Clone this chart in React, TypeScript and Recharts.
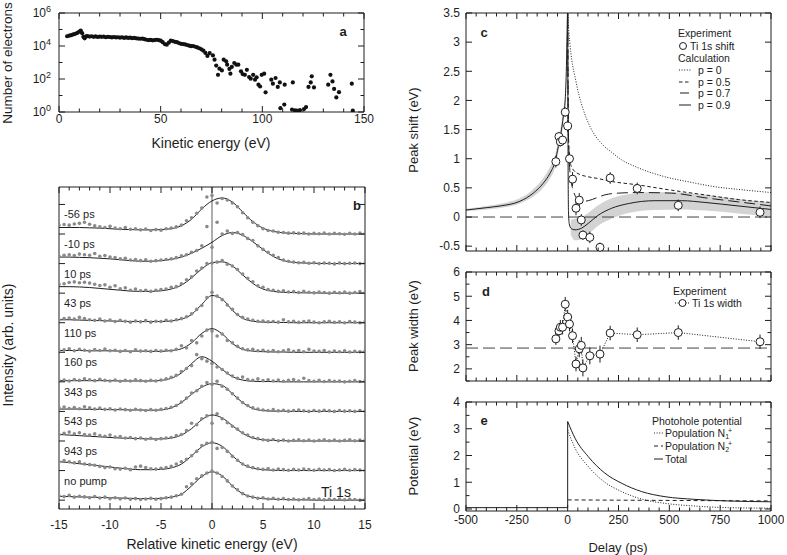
import React from "react";
import {
  ComposedChart,
  Line,
  Scatter,
  Area,
  XAxis,
  YAxis,
  ReferenceLine,
  ErrorBar,
} from "recharts";

const FONT = "'Liberation Sans', Arial, Helvetica, sans-serif";
const INK = "#1e1e1e";
const DOT_GRAY = "#8a8a8a";
const BAND = "#d3d3d3";

// ---------- panel a: electron spectrum ----------
const aEnergy = [
  4, 5, 6, 7, 8, 9, 10, 10.7, 11.4, 12, 12.6, 13.3, 14, 15, 16, 17, 18, 19, 20,
  21, 22, 23, 24, 25, 26, 27, 28, 29, 30, 31, 32, 33, 34, 35, 36, 37, 38, 39,
  40, 41, 42, 43, 44, 45, 46, 47, 48, 49, 50, 51, 52, 53, 54, 55, 56, 57, 58,
  59, 60, 61, 62, 63, 64, 65, 66, 67, 68, 69, 70, 71, 72, 73,
  74.1, 75.7, 76.5, 77.3, 78.2, 78.9, 80.1, 81, 82.2, 82.7, 83.8, 84.3, 85,
  86.2, 87.2, 88.2, 89.5, 90.3, 91.4, 92.4, 93.5, 94.3, 95.5, 96.4, 97.2, 98.1,
  98.9, 99.7, 100.9, 101.6, 104.4, 105.2, 106.5, 107.6, 108.6, 108.9, 110.8,
  111, 114.6, 115, 116, 117, 118.5, 120.5, 121.5, 122.7, 123.8, 124.3, 125.4,
  132.4, 133.5, 134.5, 135.3, 136.4, 137.7, 144, 144.5,
];
const aCounts = [
  3.9e4, 4.2e4, 4.5e4, 5.0e4, 5.5e4, 6.2e4, 7.4e4, 8.6e4, 6.0e4, 3.6e4, 2.9e4,
  3.8e4, 4.0e4, 3.7e4, 3.9e4, 3.6e4, 3.8e4, 3.5e4, 3.7e4, 3.6e4, 3.7e4, 3.4e4,
  3.6e4, 3.5e4, 3.3e4, 3.5e4, 3.3e4, 3.4e4, 3.2e4, 3.4e4, 3.1e4, 3.3e4, 3.1e4,
  3.2e4, 3.0e4, 3.1e4, 2.9e4, 2.8e4, 2.75e4, 2.8e4, 2.6e4, 2.4e4, 2.3e4,
  2.35e4, 2.2e4, 2.3e4, 2.4e4, 2.3e4, 2.1e4, 1.7e4, 1.3e4, 1.2e4, 1.6e4,
  2.1e4, 2.0e4, 1.8e4, 1.7e4, 1.5e4, 1.35e4, 1.3e4, 1.25e4, 1.15e4, 1.05e4,
  9.8e3, 1.0e4, 9.0e3, 8.2e3, 7.3e3, 6.3e3, 5.2e3, 3.8e3, 2.5e3,
  3700, 2700, 1480, 650, 180, 420, 330, 1480, 1170, 740, 410, 210, 540, 930,
  740, 740, 290, 200, 180, 360, 130, 105, 180, 91, 126, 45, 35, 180, 210, 15.5,
  91, 52, 115, 33, 62, 1.7, 2.8, 45, 1.4, 62, 1.26, 1.2, 1.3, 1.5, 2, 33, 62,
  145, 31, 45, 180, 71, 25, 7.6, 16, 52, 1.2,
];
const aXTicks = [0, 10, 20, 30, 40, 50, 60, 70, 80, 90, 100, 110, 120, 130, 140, 150];
const aYTicks = [1, 10, 100, 1000, 10000, 100000, 1000000];

// ---------- panel b: Ti 1s spectra ----------
const bLineEnergy = [
  -15, -14, -13, -12, -11, -10, -9, -8, -7, -6, -5, -4, -3, -2, -1, 0, 1, 2, 3,
  4, 5, 6, 7, 8, 9, 10, 11, 12, 13, 14, 15,
];
const bDotEnergy = [
  -15, -14.5, -14, -13.5, -13, -12.5, -12, -11.5, -11, -10.5, -10, -9.5, -9,
  -8.5, -8, -7.5, -7, -6.5, -6, -5.5, -5, -4.5, -4, -3.5, -3, -2.5, -2, -1.5,
  -1, -0.5, 0, 0.5, 1, 1.5, 2, 2.5, 3, 3.5, 4, 4.5, 5, 5.5, 6, 6.5, 7, 7.5, 8,
  8.5, 9, 9.5, 10, 10.5, 11, 11.5, 12, 12.5, 13, 13.5, 14, 14.5, 15,
];
const bDelays = ["-56 ps", "-10 ps", "10 ps", "43 ps", "110 ps", "160 ps", "343 ps", "543 ps", "943 ps", "no pump"];
const bOffsets = [9, 8, 7, 6, 5, 4, 3, 2, 1, 0];
const bXTicks = [
  -15, -14, -13, -12, -11, -10, -9, -8, -7, -6, -5, -4, -3, -2, -1, 0, 1, 2, 3,
  4, 5, 6, 7, 8, 9, 10, 11, 12, 13, 14, 15,
];
const bYTicks = [0, 1, 2, 3, 4, 5, 6, 7, 8, 9, 10];

const bFit = [
  [0.22, 0.22, 0.22, 0.21, 0.2, 0.18, 0.16, 0.15, 0.14, 0.14, 0.15, 0.18, 0.28, 0.5, 0.85, 1.12, 1.22, 1.08, 0.75, 0.42, 0.2, 0.09, 0.04, 0.02, 0.01, 0, 0, 0, 0, 0, 0],
  [0.22, 0.22, 0.21, 0.2, 0.18, 0.16, 0.13, 0.1, 0.08, 0.08, 0.1, 0.14, 0.22, 0.35, 0.52, 0.72, 0.95, 1.05, 0.96, 0.74, 0.48, 0.24, 0.1, 0.04, 0.02, 0.01, 0, 0, 0, 0, 0],
  [0.22, 0.22, 0.21, 0.19, 0.16, 0.13, 0.1, 0.07, 0.06, 0.06, 0.08, 0.14, 0.27, 0.52, 0.82, 1.03, 1.06, 0.92, 0.62, 0.33, 0.14, 0.06, 0.03, 0.02, 0.01, 0.01, 0, 0, 0, 0, 0],
  [0.1, 0.1, 0.09, 0.08, 0.07, 0.06, 0.05, 0.04, 0.04, 0.04, 0.04, 0.06, 0.12, 0.28, 0.62, 0.92, 0.8, 0.42, 0.15, 0.05, 0.02, 0.01, 0.01, 0, 0, 0, 0, 0, 0, 0, 0],
  [0.06, 0.06, 0.06, 0.05, 0.05, 0.05, 0.04, 0.04, 0.04, 0.03, 0.03, 0.06, 0.12, 0.32, 0.64, 0.8, 0.62, 0.3, 0.1, 0.04, 0.02, 0.01, 0.01, 0, 0, 0, 0, 0, 0, 0, 0],
  [0.04, 0.04, 0.04, 0.04, 0.04, 0.04, 0.03, 0.03, 0.03, 0.03, 0.05, 0.12, 0.3, 0.62, 0.85, 0.7, 0.42, 0.18, 0.06, 0.02, 0.01, 0.01, 0, 0, 0, 0, 0, 0, 0, 0, 0],
  [0.08, 0.08, 0.08, 0.07, 0.07, 0.06, 0.06, 0.05, 0.05, 0.04, 0.05, 0.12, 0.3, 0.58, 0.82, 0.94, 0.88, 0.6, 0.3, 0.1, 0.03, 0.01, 0.01, 0, 0, 0, 0, 0, 0, 0, 0],
  [0.22, 0.2, 0.18, 0.16, 0.14, 0.12, 0.1, 0.09, 0.08, 0.07, 0.07, 0.1, 0.2, 0.42, 0.72, 0.88, 0.78, 0.52, 0.26, 0.1, 0.04, 0.02, 0.01, 0, 0, 0, 0, 0, 0, 0, 0],
  [0.3, 0.27, 0.23, 0.2, 0.16, 0.12, 0.08, 0.05, 0.03, 0.03, 0.04, 0.09, 0.22, 0.5, 0.8, 0.94, 0.82, 0.5, 0.22, 0.08, 0.03, 0.01, 0, 0, 0, 0, 0, 0, 0, 0, 0],
  [0.13, 0.12, 0.11, 0.1, 0.09, 0.08, 0.07, 0.06, 0.05, 0.05, 0.06, 0.1, 0.2, 0.48, 0.8, 0.96, 0.82, 0.48, 0.22, 0.1, 0.05, 0.03, 0.02, 0.01, 0.01, 0, 0, 0, 0, 0, 0],
];

const bDots = [
  [0.3, 0.32, 0.3, 0.34, 0.36, 0.4, 0.33, 0.28, 0.24, 0.22, 0.26,
   0.2, 0.18, 0.22, 0.16, 0.18, 0.14, 0.17, 0.12, 0.15, 0.13,
   0.18, 0.2, 0.24, 0.3, 0.45, 0.55, 0.7, 0.88, 1.25, 1.3,
   1.05, 1.2, 1.15, 1.05, 0.92, 0.72, 0.55, 0.4, 0.28, 0.18,
   0.12, 0.1, 0.06, 0.05, 0.03, 0.04, 0.02, 0.03, 0, 0.02,
   0.01, 0.03, 0, 0.02, 0.01, -0.01, 0.02, 0, 0.03, 0.01],
  [0.25, 0.28, 0.3, 0.27, 0.32, 0.3, 0.28, 0.34, 0.25, 0.27, 0.22,
   0.2, 0.16, 0.18, 0.12, 0.14, 0.1, 0.13, 0.08, 0.1, 0.12,
   0.14, 0.16, 0.2, 0.26, 0.3, 0.38, 0.44, 0.6, 1.25, 0.55,
   1.4, 1.0, 1.1, 1.02, 1.05, 0.98, 0.85, 0.78, 0.6, 0.48,
   0.38, 0.28, 0.2, 0.12, 0.08, 0.05, 0.03, 0.04, 0.01, 0.03,
   0, 0.02, 0.01, -0.01, 0.02, 0, 0.01, 0.02, 0, 0.01],
  [0.3, 0.32, 0.36, 0.38, 0.35, 0.37, 0.34, 0.3, 0.26, 0.28, 0.2,
   0.25, 0.15, 0.18, 0.1, 0.14, 0.08, 0.1, 0.06, 0.1, 0.12,
   0.14, 0.2, 0.22, 0.32, 0.45, 0.55, 0.75, 0.85, 1.0, 1.02,
   1.05, 1.1, 0.98, 0.92, 0.8, 0.65, 0.5, 0.38, 0.25, 0.2,
   0.12, 0.1, 0.06, 0.08, 0.04, 0.05, 0.02, 0.06, 0.03, 0.01,
   0.04, 0.02, 0, 0.03, 0.01, 0.04, 0, 0.02, 0.05, 0.01],
  [0.1, 0.14, 0.16, 0.12, 0.18, 0.14, 0.1, 0.08, 0.12, 0.06, 0.09,
   0.04, 0.08, 0.05, 0.02, 0.06, 0.03, 0.07, 0.02, 0.05, 0.04,
   0.08, 0.06, 0.1, 0.14, 0.2, 0.3, 0.45, 0.58, 0.85, 1.03,
   0.9, 0.78, 0.6, 0.45, 0.28, 0.18, 0.12, 0.08, 0.05, 0.06,
   0.03, 0.04, 0.02, 0.1, 0.03, 0.05, 0.01, 0.04, 0.06, 0.02,
   0, 0.03, 0.05, 0.01, 0.03, 0, 0.04, 0.02, 0, 0.03],
  [0.06, 0.08, 0.12, 0.05, 0.1, 0.07, 0.04, 0.09, 0.06, 0.11, 0.05,
   0.07, 0.03, 0.06, 0.02, 0.08, 0.04, 0.05, 0.03, 0.06, 0.04,
   0.07, 0.05, 0.1, 0.22, 0.15, 0.4, 0.32, 0.55, 0.75, 0.72,
   0.55, 0.62, 0.4, 0.32, 0.2, 0.12, 0.08, 0.1, 0.05, 0.07,
   0.03, 0.06, 0.02, 0.05, 0.08, 0.03, 0.06, 0.02, 0.1, 0.04,
   0.03, 0.06, 0.01, 0.04, 0.02, 0.05, 0.01, 0.03, 0.02, 0.04],
  [0.04, 0.06, 0.03, 0.08, 0.05, 0.1, 0.07, 0.04, 0.09, 0.05, 0.03,
   0.06, 0.02, 0.05, 0.03, 0.07, 0.04, 0.02, 0.05, 0.03, 0.06,
   0.1, 0.15, 0.22, 0.35, 0.45, 0.55, 0.92, 0.78, 0.7, 0.62,
   0.5, 0.42, 0.3, 0.2, 0.12, 0.16, 0.08, 0.05, 0.1, 0.04,
   0.07, 0.03, 0.06, 0.02, 0.05, 0.08, 0.03, 0.12, 0.04, 0.02,
   0.05, 0.01, 0.04, 0.02, 0.03, 0, 0.02, 0.04, 0.01, 0.03],
  [0.12, 0.15, 0.1, 0.13, 0.09, 0.16, 0.12, 0.08, 0.11, 0.07, 0.09,
   0.05, 0.08, 0.06, 0.04, 0.07, 0.05, 0.03, 0.06, 0.04, 0.07,
   0.1, 0.14, 0.2, 0.32, 0.45, 0.62, 0.7, 0.85, 0.98, 0.92,
   1.02, 0.85, 0.75, 0.6, 0.45, 0.3, 0.2, 0.12, 0.08, 0.05,
   0.03, 0.06, 0.02, 0.04, 0.01, 0.03, 0.05, 0.02, 0, 0.03,
   0.01, 0.04, 0.02, 0, 0.03, 0.01, 0.02, 0, 0.03, 0.01],
  [0.22, 0.26, 0.3, 0.24, 0.28, 0.22, 0.2, 0.24, 0.18, 0.16, 0.2,
   0.13, 0.15, 0.1, 0.12, 0.08, 0.1, 0.06, 0.09, 0.05, 0.08,
   0.1, 0.12, 0.18, 0.22, 0.35, 0.6, 0.55, 0.75, 0.85, 0.6,
   0.92, 0.75, 0.62, 0.5, 0.4, 0.28, 0.2, 0.12, 0.08, 0.04,
   0.02, 0.05, 0.01, 0.03, 0, 0.02, 0.04, 0.01, 0.03, 0,
   0.02, 0.04, 0.01, 0.03, 0, 0.02, 0.04, 0.01, 0.03, 0.02],
  [0.3, 0.34, 0.3, 0.26, 0.3, 0.22, 0.2, 0.18, 0.14, 0.1, 0.12,
   0.06, 0.05, 0.08, 0.03, 0.12, 0.15, 0.1, 0.06, 0.05, 0.08,
   0.1, 0.14, 0.22, 0.3, 0.38, 0.5, 0.65, 0.85, 0.92, 0.96,
   0.75, 0.78, 0.65, 0.48, 0.35, 0.22, 0.15, 0.1, 0.06, 0.04,
   0.07, 0.02, 0.05, 0.03, 0.01, 0.04, 0.02, 0.05, 0.03, 0.01,
   0.04, 0.02, 0.03, 0, 0.02, 0.04, 0.01, 0.03, 0.02, 0],
  [0.14, 0.12, 0.16, 0.1, 0.13, 0.11, 0.08, 0.12, 0.07, 0.1, 0.05,
   0.08, 0.04, 0.07, 0.03, 0.05, 0.02, 0.04, 0.06, 0.03, 0.05,
   0.08, 0.1, 0.15, 0.2, 0.45, 0.55, 0.72, 0.82, 0.92, 0.98,
   0.92, 0.8, 0.65, 0.48, 0.35, 0.22, 0.14, 0.1, 0.06, 0.08,
   0.04, 0.06, 0.03, 0.05, 0.02, 0.04, 0.01, 0.03, 0.05, 0.02,
   0.04, 0.01, 0.03, 0.02, 0.04, 0.01, 0.03, 0.02, 0, 0.02],
];

// ---------- panels c-e: delay scans ----------
const delayTicks = [
  -500, -450, -400, -350, -300, -250, -200, -150, -100, -50, 0, 50, 100, 150,
  200, 250, 300, 350, 400, 450, 500, 550, 600, 650, 700, 750, 800, 850, 900,
  950, 1000,
];
const delays = [-58, -43, -36, -25, -12, 0, 9, 24, 41, 57, 67, 75, 109, 159, 209, 342, 544, 946];
const shiftEv = [0.95, 1.38, 1.29, 1.32, 1.8, 1.56, 1.0, 0.65, 0.15, 0.29, -0.05, -0.31, -0.35, -0.52, 0.67, 0.49, 0.2, 0.08];
const shiftErr = [0.1, 0.08, 0.08, 0.08, 0.08, 0.1, 0.1, 0.12, 0.12, 0.12, 0.1, 0.08, 0.1, 0.08, 0.1, 0.1, 0.1, 0.1];
const widthEv = [3.24, 3.57, 3.72, 3.72, 4.67, 4.14, 3.85, 3.37, 2.2, 2.83, 2.97, 2.04, 2.54, 2.61, 3.48, 3.41, 3.5, 3.12];
const widthErr = [0.25, 0.25, 0.3, 0.3, 0.3, 0.3, 0.3, 0.3, 0.3, 0.35, 0.35, 0.35, 0.35, 0.35, 0.3, 0.3, 0.3, 0.3];
const cYTicks = [-0.5, 0, 0.5, 1, 1.5, 2, 2.5, 3, 3.5];
const dYTicks = [1.5, 2, 2.5, 3, 3.5, 4, 4.5, 5, 5.5, 6];
const eYTicks = [0, 0.5, 1, 1.5, 2, 2.5, 3, 3.5, 4];

// calculated peak shift, p = 0 / 0.5 / 0.7 / 0.9
const p0T = [1, 4, 11, 20, 36, 55, 77, 110, 167, 220, 266, 350, 479, 600, 724, 850, 1000];
const p0V = [3.7, 3.3, 2.98, 2.7, 2.41, 2.1, 1.84, 1.55, 1.26, 1.1, 0.98, 0.84, 0.69, 0.6, 0.52, 0.47, 0.42];
const p05T = [0, 3, 8, 15, 30, 60, 101, 150, 200, 347, 511, 675, 839, 1000];
const p05V = [3.7, 1.6, 1.05, 0.9, 0.8, 0.73, 0.69, 0.66, 0.62, 0.55, 0.46, 0.38, 0.3, 0.25];
const p07T = [0, 4, 12, 27, 50, 80, 101, 150, 183, 250, 347, 511, 675, 839, 1000];
const p07V = [3.7, 1.4, 0.75, 0.46, 0.31, 0.27, 0.28, 0.34, 0.38, 0.41, 0.42, 0.41, 0.33, 0.26, 0.19];
const p09PreT = [-500, -400, -332, -235, -169, -120, -87, -62, -46, -33, -21, -12, -6, -3, 0];
const p09PreV = [0.12, 0.16, 0.19, 0.27, 0.41, 0.58, 0.75, 0.95, 1.21, 1.44, 1.74, 2.02, 2.6, 3.15, 3.7];
const p09PostT = [0, 2, 4, 8, 18, 36, 69, 101, 150, 216, 298, 429, 561, 675, 839, 1000];
const p09PostV = [3.7, 1.0, 0.1, -0.12, -0.2, -0.22, -0.19, -0.11, 0.03, 0.15, 0.23, 0.28, 0.28, 0.25, 0.19, 0.13];
const bandPreT = [-500, -400, -300, -235, -169, -120, -87, -62, -46, -33, -21, -12, -6, -3];
const bandPreLo = [0.1, 0.13, 0.17, 0.23, 0.35, 0.5, 0.66, 0.85, 1.1, 1.33, 1.62, 1.92, 2.5, 3.05];
const bandPreHi = [0.14, 0.19, 0.25, 0.32, 0.48, 0.67, 0.86, 1.06, 1.33, 1.56, 1.86, 2.12, 2.7, 3.25];
const bandPostT = [15, 25, 36, 69, 101, 150, 216, 298, 429, 561, 675, 839, 1000];
const bandPostLo = [-0.3, -0.37, -0.4, -0.38, -0.3, -0.15, -0.03, 0.07, 0.12, 0.13, 0.11, 0.06, 0.0];
const bandPostHi = [-0.05, -0.04, -0.03, 0.0, 0.07, 0.2, 0.32, 0.39, 0.43, 0.42, 0.38, 0.31, 0.25];

// photohole potential
const totPreT = [-500, 0, 0];
const totPreV = [0.05, 0.05, 3.27];
const totT = [0, 36, 101, 183, 266, 364, 479, 626, 790, 1000];
const totV = [3.27, 2.65, 1.96, 1.34, 0.96, 0.65, 0.46, 0.36, 0.3, 0.27];
const n1T = [0, 36, 101, 183, 266, 364, 479, 626, 790, 1000];
const n1V = [2.95, 2.28, 1.59, 1.0, 0.65, 0.37, 0.21, 0.11, 0.05, 0.03];
const n2T = [0, 250, 500, 750, 1000];
const n2V = [0.34, 0.33, 0.32, 0.31, 0.3];

// ---------- helpers ----------
const pts = (xs: number[], ys: number[]) => xs.map((x, i) => ({ x, y: ys[i] }));

type Side = "bottom" | "top" | "left" | "right";

function tickFn(
  side: Side,
  isMajor: (v: number) => boolean,
  fmt: ((v: number) => React.ReactNode) | null,
  gap: number,
  size: number,
  majorLen: number,
  minorLen: number
) {
  return (props: any) => {
    const { x, y, payload } = props;
    const v = payload.value as number;
    const major = isMajor(v);
    const len = major ? majorLen : minorLen;
    const x2 = side === "left" ? x + len : side === "right" ? x - len : x;
    const y2 = side === "bottom" ? y - len : side === "top" ? y + len : y;
    let label: React.ReactNode = null;
    if (major && fmt && side === "bottom") {
      label = (
        <text x={x} y={y + gap} textAnchor="middle" fontSize={size} fontFamily={FONT} fill={INK}>
          {fmt(v)}
        </text>
      );
    }
    if (major && fmt && side === "left") {
      label = (
        <text x={x - gap} y={y} dy="0.36em" textAnchor="end" fontSize={size} fontFamily={FONT} fill={INK}>
          {fmt(v)}
        </text>
      );
    }
    return (
      <g>
        <line x1={x} y1={y} x2={x2} y2={y2} stroke={INK} strokeWidth={1} />
        {label}
      </g>
    );
  };
}

interface FrameOpts {
  xDomain: [number, number];
  xTicks: number[];
  xMajor: (v: number) => boolean;
  xFmt?: ((v: number) => React.ReactNode) | null;
  xGap?: number;
  yDomain: [number, number];
  yTicks: number[];
  yMajor: (v: number) => boolean;
  yFmt?: ((v: number) => React.ReactNode) | null;
  yGap?: number;
  yScale?: "log" | "linear";
  wl: number;
  hb: number;
  size?: number;
}

// four axes round the plot, ticks pointing inwards.
// top / right axes get 1px so recharts still draws them
function frame(o: FrameOpts) {
  const size = o.size ?? 12;
  const line = { stroke: INK, strokeWidth: 1 };
  const common = {
    type: "number" as const,
    allowDataOverflow: true,
    interval: 0 as const,
    tickSize: 0,
    tickMargin: 0,
    tickLine: false,
    axisLine: line,
  };
  const yScale = o.yScale ?? "linear";
  return [
    <XAxis key="xb" xAxisId="b" orientation="bottom" dataKey="x" domain={o.xDomain} ticks={o.xTicks} height={o.hb}
      tick={tickFn("bottom", o.xMajor, o.xFmt ?? null, o.xGap ?? 10.5, size, 6, 3.5)} {...common} />,
    <XAxis key="xt" xAxisId="t" orientation="top" dataKey="x" domain={o.xDomain} ticks={o.xTicks} height={1}
      tick={tickFn("top", o.xMajor, null, 0, size, 6, 3.5)} {...common} />,
    <YAxis key="yl" yAxisId="l" orientation="left" dataKey="y" domain={o.yDomain} ticks={o.yTicks} width={o.wl} scale={yScale}
      tick={tickFn("left", o.yMajor, o.yFmt ?? null, o.yGap ?? 6, size, 6, 3.5)} {...common} />,
    <YAxis key="yr" yAxisId="r" orientation="right" dataKey="y" domain={o.yDomain} ticks={o.yTicks} width={1} scale={yScale}
      tick={tickFn("right", o.yMajor, null, 0, size, 6, 3.5)} {...common} />,
  ];
}

const dotShape = (r: number, fill: string) => (p: any) => <circle cx={p.cx} cy={p.cy} r={r} fill={fill} />;
const openCircle = (p: any) => <circle cx={p.cx} cy={p.cy} r={4} fill="#fff" stroke={INK} strokeWidth={1} />;

function Txt(props: {
  x: number; y: number; size?: number; rotate?: boolean; anchor?: "start" | "middle";
  bold?: boolean; children: React.ReactNode;
}) {
  const { x, y, size = 12, rotate = false, anchor = "middle", bold = false } = props;
  const tx = anchor === "middle" ? "-50%" : "0";
  return (
    <div
      style={{
        position: "absolute", left: x, top: y, whiteSpace: "nowrap", lineHeight: 1,
        fontSize: size, fontWeight: bold ? 700 : 400, color: INK, fontFamily: FONT,
        transform: `translate(${tx}, -50%)${rotate ? " rotate(-90deg)" : ""}`,
      }}
    >
      {props.children}
    </div>
  );
}

function Sample({ x, y, w, dash, circle }: { x: number; y: number; w: number; dash?: string; circle?: boolean }) {
  return (
    <svg style={{ position: "absolute", left: x, top: y - 5 }} width={w} height={10}>
      <line x1={0} y1={5} x2={w} y2={5} stroke={INK} strokeWidth={1} strokeDasharray={dash} />
      {circle && <circle cx={w / 2} cy={5} r={3.5} fill="#fff" stroke={INK} />}
    </svg>
  );
}

const logFmt = (v: number) => {
  const e = Math.round(Math.log10(v));
  return (
    <>
      <tspan>10</tspan>
      <tspan dy={-5} fontSize={9}>{e}</tspan>
    </>
  );
};

const sub = { fontSize: 7, verticalAlign: -2 } as React.CSSProperties;
const sup = { fontSize: 7, verticalAlign: 4, marginLeft: -1 } as React.CSSProperties;

export default function App() {
  const aPts = pts(aEnergy, aCounts);
  const bLines = bFit.map((ys, i) => bLineEnergy.map((x, j) => ({ x, y: ys[j] + bOffsets[i] })));
  const bDotPts = bDots.map((ys, i) => bDotEnergy.map((x, j) => ({ x, y: ys[j] + bOffsets[i] })));
  const bLabels = bDelays.map((name, i) => ({ x: -14.5, y: bOffsets[i] + 0.66, name }));
  const shiftPts = delays.map((x, i) => ({ x, y: shiftEv[i], e: shiftErr[i] }));
  const widthPts = delays.map((x, i) => ({ x, y: widthEv[i], e: widthErr[i] }));
  const bandPre = bandPreT.map((x, i) => ({ x, r: [bandPreLo[i], bandPreHi[i]] }));
  const bandPost = bandPostT.map((x, i) => ({ x, r: [bandPostLo[i], bandPostHi[i]] }));

  const ser = { xAxisId: "b", yAxisId: "l", isAnimationActive: false } as const;
  const lineStyle = { stroke: INK, strokeWidth: 1, dot: false, activeDot: false } as const;

  return (
    <div style={{ position: "absolute", left: 0, top: 0, width: 787, height: 555, background: "#fff", fontFamily: FONT }}>
      {/* a: plot 59..364 x 13..112 */}
      <div style={{ position: "absolute", left: 0, top: 0 }}>
        <ComposedChart width={375} height={132} margin={{ top: 12, right: 10, bottom: 0, left: 0 }}>
          {frame({
            xDomain: [0, 150], xTicks: aXTicks, xMajor: (v) => v % 50 === 0, xFmt: (v) => String(v),
            yDomain: [1, 1000000], yTicks: aYTicks, yMajor: (v) => Math.round(Math.log10(v)) % 2 === 0,
            yFmt: logFmt, yGap: 8, yScale: "log", wl: 59, hb: 20,
          })}
          <Scatter {...ser} data={aPts} shape={dotShape(2.1, "#111")} />
        </ComposedChart>
      </div>

      {/* b: plot 59..365 x 187..509 */}
      <div style={{ position: "absolute", left: 0, top: 183 }}>
        <ComposedChart width={376} height={352} margin={{ top: 3, right: 10, bottom: 0, left: 0 }}>
          {frame({
            xDomain: [-15, 15], xTicks: bXTicks, xMajor: (v) => v % 5 === 0, xFmt: (v) => String(v), xGap: 20,
            yDomain: [-0.3, 10.59], yTicks: bYTicks, yMajor: () => true, yFmt: null, wl: 59, hb: 26,
          })}
          <ReferenceLine xAxisId="b" yAxisId="l" x={0} stroke="#777" strokeWidth={1.2} />
          {bDotPts.map((d, i) => (
            <Scatter key={"d" + i} {...ser} data={d} shape={dotShape(1.8, DOT_GRAY)} />
          ))}
          {bLines.map((d, i) => (
            <Line key={"l" + i} {...ser} data={d} dataKey="y" type="monotone" {...lineStyle} />
          ))}
          <Scatter {...ser} data={bLabels}
            shape={(p: any) => (
              <text x={p.cx} y={p.cy} dominantBaseline="central" fontSize={11} fontFamily={FONT} fill={INK}>
                {p.payload.name}
              </text>
            )} />
        </ComposedChart>
      </div>

      {/* c: plot 466..771 x 13..251 */}
      <div style={{ position: "absolute", left: 406, top: 0 }}>
        <ComposedChart width={378} height={255} margin={{ top: 12, right: 12, bottom: 3, left: 0 }}>
          {frame({
            xDomain: [-500, 1000], xTicks: delayTicks, xMajor: (v) => v % 250 === 0, xFmt: null,
            yDomain: [-0.583, 3.5], yTicks: cYTicks, yMajor: () => true, yFmt: (v) => String(v), wl: 60, hb: 1,
          })}
          <Area {...ser} data={bandPre} dataKey="r" type="monotone" stroke="none" fill={BAND} fillOpacity={1} />
          <Area {...ser} data={bandPost} dataKey="r" type="monotone" stroke="none" fill={BAND} fillOpacity={1} />
          <ReferenceLine xAxisId="b" yAxisId="l" y={0} stroke="#444" strokeDasharray="12 5" />
          <Line {...ser} data={pts(p0T, p0V)} dataKey="y" type="monotone" {...lineStyle} strokeDasharray="1 1.6" />
          <Line {...ser} data={pts(p05T, p05V)} dataKey="y" type="monotone" {...lineStyle} strokeDasharray="3.5 2.5" />
          <Line {...ser} data={pts(p07T, p07V)} dataKey="y" type="monotone" {...lineStyle} strokeDasharray="11 5" />
          <Line {...ser} data={pts(p09PreT, p09PreV)} dataKey="y" type="monotone" {...lineStyle} />
          <Line {...ser} data={pts(p09PostT, p09PostV)} dataKey="y" type="monotone" {...lineStyle} />
          <Scatter {...ser} data={shiftPts} shape={openCircle}>
            <ErrorBar dataKey="e" direction="y" width={0} stroke={INK} strokeWidth={1} />
          </Scatter>
        </ComposedChart>
      </div>

      {/* d: plot 466..771 x 272..381 */}
      <div style={{ position: "absolute", left: 406, top: 262 }}>
        <ComposedChart width={378} height={123} margin={{ top: 9, right: 12, bottom: 3, left: 0 }}>
          {frame({
            xDomain: [-500, 1000], xTicks: delayTicks, xMajor: (v) => v % 250 === 0, xFmt: null,
            yDomain: [1.5, 6], yTicks: dYTicks, yMajor: (v) => v % 1 === 0, yFmt: (v) => String(v), wl: 60, hb: 1,
          })}
          <ReferenceLine xAxisId="b" yAxisId="l" y={2.86} stroke="#444" strokeDasharray="12 5" />
          <Line {...ser} data={pts(delays, widthEv)} dataKey="y" type="linear" {...lineStyle} strokeDasharray="1 1.6" />
          <Scatter {...ser} data={widthPts} shape={openCircle}>
            <ErrorBar dataKey="e" direction="y" width={0} stroke={INK} strokeWidth={1} />
          </Scatter>
        </ComposedChart>
      </div>

      {/* e: plot 466..771 x 402..511 */}
      <div style={{ position: "absolute", left: 406, top: 392 }}>
        <ComposedChart width={378} height={139} margin={{ top: 9, right: 12, bottom: 0, left: 0 }}>
          {frame({
            xDomain: [-500, 1000], xTicks: delayTicks, xMajor: (v) => v % 250 === 0, xFmt: (v) => String(v), xGap: 12.5,
            yDomain: [-0.075, 4], yTicks: eYTicks, yMajor: (v) => v % 1 === 0, yFmt: (v) => String(v), wl: 60, hb: 20,
          })}
          <Line {...ser} data={pts(n2T, n2V)} dataKey="y" type="monotone" {...lineStyle} strokeDasharray="4 3" />
          <Line {...ser} data={pts(n1T, n1V)} dataKey="y" type="monotone" {...lineStyle} strokeDasharray="1 1.6" />
          <Line {...ser} data={pts(totPreT, totPreV)} dataKey="y" type="linear" {...lineStyle} />
          <Line {...ser} data={pts(totT, totV)} dataKey="y" type="monotone" {...lineStyle} />
        </ComposedChart>
      </div>

      {/* axis titles */}
      <Txt x={8} y={63} size={13.5} rotate>Number of electrons</Txt>
      <Txt x={211} y={143} size={14}>Kinetic energy (eV)</Txt>
      <Txt x={8} y={345} size={14} rotate>Intensity (arb. units)</Txt>
      <Txt x={212} y={544} size={14}>Relative kinetic energy (eV)</Txt>
      <Txt x={413} y={130} size={13} rotate>Peak shift (eV)</Txt>
      <Txt x={413} y={326} size={13} rotate>Peak width (eV)</Txt>
      <Txt x={413} y={456} size={13} rotate>Potential (eV)</Txt>
      <Txt x={618} y={547} size={13}>Delay (ps)</Txt>

      {/* panel letters */}
      <Txt x={343} y={31} size={13} bold>a</Txt>
      <Txt x={357} y={205} size={13} bold>b</Txt>
      <Txt x={484} y={32} size={13} bold>c</Txt>
      <Txt x={486} y={291} size={13} bold>d</Txt>
      <Txt x={484} y={420} size={13} bold>e</Txt>
      <Txt x={336} y={492} size={14}>Ti 1s</Txt>

      {/* legend c */}
      <Txt x={678} y={33} size={10.5} anchor="start">Experiment</Txt>
      <Sample x={679} y={46} w={8} dash="0 100" circle />
      <Txt x={690} y={46} size={10.5} anchor="start">Ti 1s shift</Txt>
      <Txt x={678} y={58} size={10.5} anchor="start">Calculation</Txt>
      <Sample x={679} y={70} w={12} dash="1 1.6" />
      <Txt x={698} y={70} size={10.5} anchor="start">p = 0</Txt>
      <Sample x={679} y={81.5} w={12} dash="3.5 2.5" />
      <Txt x={698} y={81.5} size={10.5} anchor="start">p = 0.5</Txt>
      <Sample x={680} y={93} w={9} />
      <Txt x={698} y={93} size={10.5} anchor="start">p = 0.7</Txt>
      <Sample x={679} y={104.5} w={12} />
      <Txt x={698} y={104.5} size={10.5} anchor="start">p = 0.9</Txt>

      {/* legend d */}
      <Txt x={673} y={291} size={10.5} anchor="start">Experiment</Txt>
      <Sample x={675} y={302.5} w={15} dash="1 1.6" circle />
      <Txt x={692} y={302.5} size={10.5} anchor="start">Ti 1s width</Txt>

      {/* legend e */}
      <Txt x={652} y={421} size={10.5} anchor="start">Photohole potential</Txt>
      <Sample x={654} y={433} w={9} dash="1 1.6" />
      <Txt x={665} y={433} size={10.5} anchor="start">
        Population N<span style={sub}>1</span><span style={sup}>+</span>
      </Txt>
      <Sample x={654} y={446} w={9} dash="4 3" />
      <Txt x={665} y={446} size={10.5} anchor="start">
        Population N<span style={sub}>2</span><span style={sup}>+</span>
      </Txt>
      <Sample x={654} y={459} w={9} />
      <Txt x={665} y={459} size={10.5} anchor="start">Total</Txt>
    </div>
  );
}
